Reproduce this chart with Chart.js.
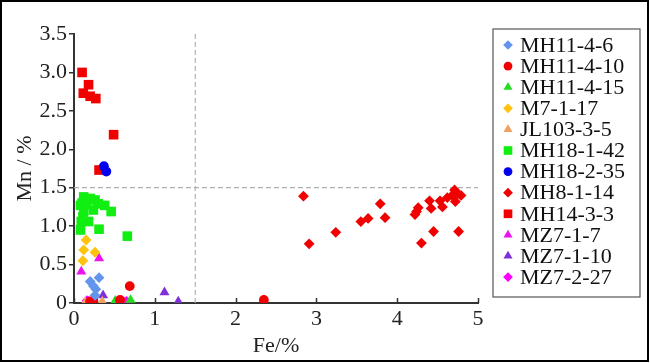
<!DOCTYPE html>
<html>
<head>
<meta charset="utf-8">
<script src="https://cdn.jsdelivr.net/npm/chart.js@4.4.1/dist/chart.umd.min.js"></script>
<style>
  html, body { margin: 0; padding: 0; background: #fff; }
  #wrap { width: 650px; height: 363px; }
</style>
</head>
<body>
<div id="wrap"><canvas id="chart" width="650" height="363"></canvas></div>
<script>
// sample names, legend order
const seriesNames = ['MH11-4-6', 'MH11-4-10', 'MH11-4-15', 'M7-1-17', 'JL103-3-5', 'MH18-1-42',
    'MH18-2-35', 'MH8-1-14', 'MH14-3-3', 'MZ7-1-7', 'MZ7-1-10', 'MZ7-2-27'];

// [Fe %, Mn %]
const mh11_4_6 = [[0.20, 0.28], [0.24, 0.22], [0.27, 0.18], [0.31, 0.33], [0.26, 0.10]];
const mh11_4_10 = [[0.24, 0.03], [0.57, 0.04], [0.69, 0.22], [2.35, 0.04], [0.20, 0.02]];
const mh11_4_15 = [[0.51, 0.03], [0.70, 0.04]];
const m7_1_17 = [[0.15, 0.82], [0.12, 0.69], [0.26, 0.66], [0.11, 0.55]];
const jl103_3_5 = [[0.14, 0.01], [0.35, 0.02]];
const mh18_1_42 = [[0.12, 1.38], [0.08, 1.27], [0.20, 1.36], [0.26, 1.34], [0.12, 1.19], [0.24, 1.21],
    [0.30, 1.29], [0.38, 1.27], [0.46, 1.19], [0.09, 1.06], [0.18, 1.06], [0.08, 0.95],
    [0.31, 0.96], [0.66, 0.87], [0.10, 1.30], [0.15, 1.28], [0.11, 1.12]];
const mh18_2_35 = [[0.37, 1.78], [0.40, 1.71]];
const mh8_1_14 = [[2.84, 1.39], [2.91, 0.77], [3.24, 0.92], [3.55, 1.06], [3.64, 1.10], [3.79, 1.29],
    [3.85, 1.11], [4.22, 1.15], [4.24, 1.19], [4.26, 1.24], [4.30, 0.78], [4.40, 1.33],
    [4.42, 1.23], [4.45, 0.93], [4.53, 1.33], [4.56, 1.25], [4.62, 1.37], [4.68, 1.40],
    [4.71, 1.47], [4.75, 1.42], [4.79, 1.40], [4.72, 1.32], [4.76, 0.93]];
const mh14_3_3 = [[0.10, 3.00], [0.18, 2.84], [0.115, 2.73], [0.20, 2.69], [0.27, 2.66], [0.49, 2.19], [0.31, 1.73]];
const mz7_1_7 = [[0.31, 0.58], [0.09, 0.41], [0.62, 0.01]];
const mz7_1_10 = [[1.12, 0.14], [1.29, 0.02], [0.36, 0.10]];
const mz7_2_27 = [[0.16, 0.03], [0.18, 0.02], [0.65, 0.02], [0.22, 0.01]];

const seriesData = [mh11_4_6, mh11_4_10, mh11_4_15, m7_1_17, jl103_3_5, mh18_1_42,
    mh18_2_35, mh8_1_14, mh14_3_3, mz7_1_7, mz7_1_10, mz7_2_27];

// reference lines
const feLine = 1.5;
const mnLine = 1.5;

// styles
const colors = ['#6495ED', '#F00000', '#22DD22', '#FFC20E', '#F0A060', '#11EE11',
    '#0000EE', '#F00000', '#F00000', '#EE11EE', '#8030D8', '#FF00FF'];
const shapes = ['rectRot', 'circle', 'triangle', 'rectRot', 'triangle', 'rect',
    'circle', 'rectRot', 'rect', 'triangle', 'triangle', 'rectRot'];
const sizes = { rectRot: 5.4, circle: 4.9, triangle: 5.8, rect: 6.8 };

const serif = 'Liberation Serif';
const ink = '#222';

const datasets = seriesNames.map((name, i) => ({
    label: name,
    data: seriesData[i].map(p => ({ x: p[0], y: p[1] })),
    pointStyle: shapes[i],
    pointRadius: sizes[shapes[i]],
    pointHoverRadius: sizes[shapes[i]],
    backgroundColor: colors[i],
    borderWidth: 0,
    clip: 0
}));

const extras = {
    id: 'extras',
    beforeDatasetsDraw(chart) {
        const { ctx, chartArea: a, scales: { x, y } } = chart;
        ctx.save();
        ctx.strokeStyle = '#b0b0b0';
        ctx.lineWidth = 1.2;
        ctx.setLineDash([5, 3]);
        const px = x.getPixelForValue(feLine);
        const py = y.getPixelForValue(mnLine);
        ctx.beginPath();
        ctx.moveTo(px, a.top);
        ctx.lineTo(px, a.bottom);
        ctx.moveTo(a.left, py);
        ctx.lineTo(a.right, py);
        ctx.stroke();
        ctx.restore();
    },
    afterDraw(chart) {
        const { ctx, chartArea: a, scales: { x } } = chart;
        ctx.save();
        // inward ticks on Fe axis
        ctx.strokeStyle = '#333';
        ctx.lineWidth = 1.5;
        x.ticks.forEach(t => {
            const px = Math.round(x.getPixelForValue(t.value)) + 0.5;
            ctx.beginPath();
            ctx.moveTo(px, a.bottom);
            ctx.lineTo(px, a.bottom - 5);
            ctx.stroke();
        });

        // legend box
        ctx.strokeStyle = '#555';
        ctx.lineWidth = 1.2;
        ctx.strokeRect(493, 29, 147, 268);
        ctx.font = '22px "' + serif + '"';
        ctx.textBaseline = 'middle';
        chart.data.datasets.forEach((ds, i) => {
            const cy = 45 + i * 21.1;
            ctx.fillStyle = ds.backgroundColor;
            Chart.helpers.drawPoint(ctx, { pointStyle: ds.pointStyle, radius: ds.pointRadius * 0.9, rotation: 0, borderWidth: 0 }, 508, cy);
            ctx.fillStyle = '#111';
            ctx.fillText(ds.label, 520, cy + 1);
        });

        // outer frame
        ctx.strokeStyle = '#000';
        ctx.lineWidth = 2;
        ctx.strokeRect(1, 1, 647, 360);
        ctx.restore();
    }
};

new Chart(document.getElementById('chart'), {
    type: 'scatter',
    data: { datasets: datasets },
    options: {
        responsive: false,
        animation: false,
        events: [],
        layout: { padding: { left: 8, top: 34, right: 172, bottom: 4 } },
        plugins: {
            legend: { display: false },
            tooltip: { enabled: false }
        },
        scales: {
            x: {
                min: 0, max: 5,
                afterFit(scale) { scale.height = 56; },
                border: { color: '#333', width: 2 },
                grid: { display: true, drawOnChartArea: false, drawTicks: false, color: '#333' },
                ticks: { stepSize: 1, padding: 3, color: ink, font: { family: serif, size: 22 } },
                title: { display: true, text: 'Fe/%', color: ink, padding: { top: 0, bottom: 0 }, font: { family: serif, size: 22 } }
            },
            y: {
                min: 0, max: 3.5,
                afterFit(scale) { scale.width = 66; },
                border: { color: '#333', width: 2 },
                grid: { display: true, drawOnChartArea: false, drawTicks: true, tickLength: 5, color: '#333', lineWidth: 1.5 },
                ticks: {
                    stepSize: 0.5, padding: 2, color: ink, font: { family: serif, size: 22 },
                    callback: v => v === 0 ? '0' : v.toFixed(1)
                },
                title: { display: true, text: 'Mn / %', color: ink, padding: { top: 4, bottom: 0 }, font: { family: serif, size: 22 } }
            }
        }
    },
    plugins: [extras]
});
</script>
</body>
</html>
